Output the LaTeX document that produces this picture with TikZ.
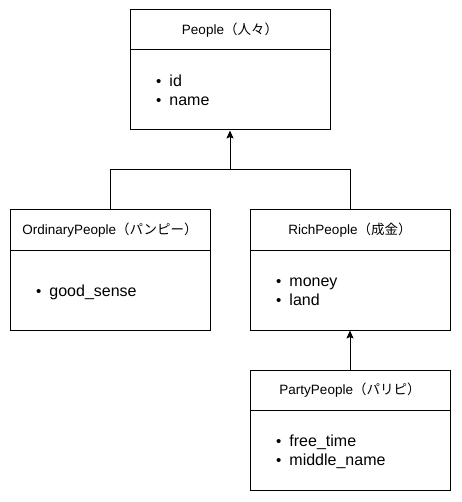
\documentclass[tikz,border=0pt]{standalone}
\usepackage{fontspec}
\setmainfont{Liberation Sans}
\newfontfamily\jpfont{Noto Sans CJK JP}
\usetikzlibrary{arrows.meta}
\newcommand{\blt}{\raisebox{0pt}{\fontsize{15}{15}\selectfont•}}
\begin{document}
\begin{tikzpicture}[x=1pt,y=-1pt,
  titlebox/.style={draw=black,line width=1pt,minimum width=200pt,minimum height=40pt,inner sep=0pt,font=\fontsize{13.5}{16}\selectfont},
  bodybox/.style={draw=black,line width=1pt,minimum width=200pt,minimum height=80pt,inner sep=0pt},
  items/.style={anchor=west,inner sep=0pt,font=\fontsize{16}{20}\selectfont,align=left},
  conn/.style={line width=1pt,draw=black},
  inh/.style={conn,-{Stealth[length=8pt,width=7pt,inset=1.5pt]}}]
\useasboundingbox (0,0) rectangle (461,502);
% People
\node[titlebox] (peopleT) at (230,30) {People{\jpfont （人々）}};
\node[bodybox] (peopleB) at (230,90) {};
\node[items] (peopleL) at (156,92) {\begin{tabular}{@{}l@{\hspace{8pt}}l@{}}\blt & id\\[-1pt] \blt & name\end{tabular}};
% Ordinary
\node[titlebox] (ordT) at (110,230) {OrdinaryPeople{\jpfont （パンピー）}};
\node[bodybox] (ordB) at (110,290) {};
\node[items] (ordL) at (36,292) {\begin{tabular}{@{}l@{\hspace{8pt}}l@{}}\blt & good\_sense\end{tabular}};
% Rich
\node[titlebox] (richT) at (350,230) {RichPeople{\jpfont （成金）}};
\node[bodybox] (richB) at (350,290) {};
\node[items] (richL) at (276,292) {\begin{tabular}{@{}l@{\hspace{8pt}}l@{}}\blt & money\\[-1pt] \blt & land\end{tabular}};
% Party
\node[titlebox] (partyT) at (350,390) {PartyPeople{\jpfont （パリピ）}};
\node[bodybox] (partyB) at (350,450) {};
\node[items] (partyL) at (276,452) {\begin{tabular}{@{}l@{\hspace{8pt}}l@{}}\blt & free\_time\\[-1pt] \blt & middle\_name\end{tabular}};
% connectors
\coordinate (j) at (230,170);
\draw[conn] (ordT.north) |- (j);
\draw[conn] (richT.north) |- (j);
\draw[inh] (j) -- (peopleB.south);
\draw[inh] (partyT.north) -- (richB.south);
\end{tikzpicture}
\end{document}
